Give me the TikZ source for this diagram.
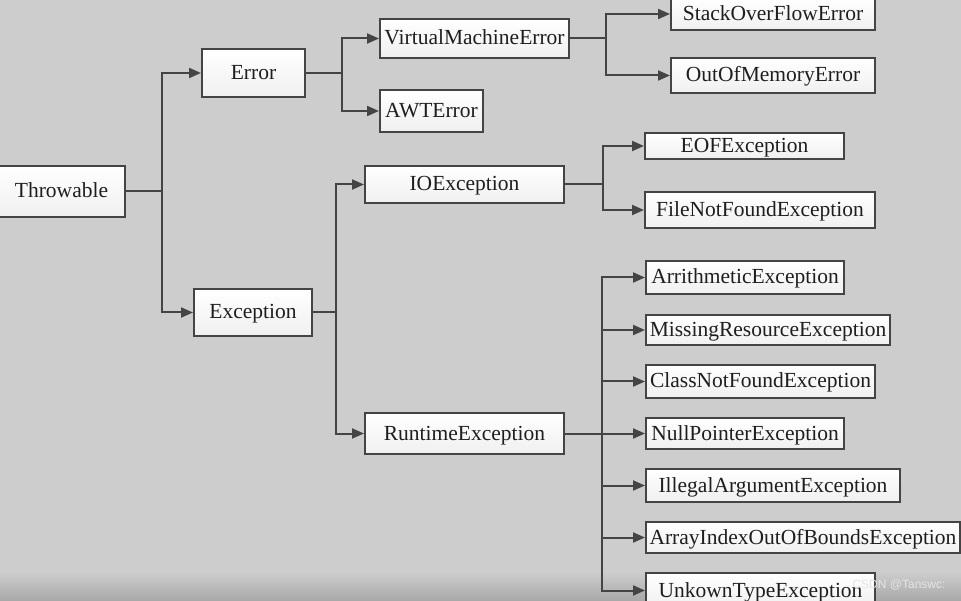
\documentclass[tikz,border=0pt]{standalone}
\usepackage{fontspec}
\setmainfont{Liberation Serif}
\newfontfamily\wmfont{Liberation Sans}
\usetikzlibrary{arrows.meta}
\definecolor{bgc}{HTML}{CDCDCD}
\definecolor{bgd}{HTML}{A8A8A8}
\definecolor{linec}{HTML}{444444}
\definecolor{txtc}{HTML}{1E1E1E}
\definecolor{wmc}{HTML}{E4E4E4}
\begin{document}
\begin{tikzpicture}[x=1pt,y=-1pt,
  cls/.style={draw=linec, line width=2pt, top color=white, bottom color=gray!12,
    inner sep=0pt, text=txtc, text height=13pt, text depth=0pt,
    font=\fontsize{21.5}{24}\selectfont},
  conn/.style={draw=linec, line width=2pt},
  arr/.style={conn, -{Triangle[length=12pt,width=10pt]}}]
\useasboundingbox (0,0) rectangle (961,601);
\fill[bgc] (0,0) rectangle (961,601);
\shade[top color=bgc, bottom color=bgd] (0,572) rectangle (961,601);

\node[cls, minimum width=127pt, minimum height=51pt] (thr) at (61.5,191.5) {Throwable};
\node[cls, minimum width=103pt, minimum height=48pt] (err) at (253.5,73) {Error};
\node[cls, minimum width=118pt, minimum height=47pt] (exc) at (253,312.5) {Exception};
\node[cls, minimum width=189pt, minimum height=39pt] (vme) at (474.5,38.5) {VirtualMachineError};
\node[cls, minimum width=103pt, minimum height=42pt] (awt) at (431.5,111) {AWTError};
\node[cls, minimum width=199pt, minimum height=37pt] (ioe) at (464.5,184.5) {IOException};
\node[cls, minimum width=199pt, minimum height=41pt] (rte) at (464.5,433.5) {RuntimeException};
\node[cls, minimum width=204pt, minimum height=32pt] (sof) at (773,14) {StackOverFlowError};
\node[cls, minimum width=204pt, minimum height=35pt] (oom) at (773,75.5) {OutOfMemoryError};
\node[cls, minimum width=199pt, minimum height=26pt] (eof) at (744.5,146) {EOFException};
\node[cls, minimum width=230pt, minimum height=36pt] (fnf) at (760,210) {FileNotFoundException};
\node[cls, minimum width=198pt, minimum height=33pt] (ari) at (745,277.5) {ArrithmeticException};
\node[cls, minimum width=244pt, minimum height=30pt] (mre) at (768,330) {MissingResourceException};
\node[cls, minimum width=229pt, minimum height=33pt] (cnf) at (760.5,381.5) {ClassNotFoundException};
\node[cls, minimum width=198pt, minimum height=31pt] (npe) at (745,433.5) {NullPointerException};
\node[cls, minimum width=254pt, minimum height=33pt] (iae) at (773,485.5) {IllegalArgumentException};
\node[cls, minimum width=314pt, minimum height=31pt] (aio) at (803,537.5) {ArrayIndexOutOfBoundsException};
\node[cls, minimum width=229pt, minimum height=35pt] (ute) at (760.5,590.5) {UnkownTypeException};

\coordinate (j1) at (162,191.5);
\coordinate (j2) at (342,73);
\coordinate (j3) at (336,312.5);
\coordinate (j4) at (606,38.5);
\coordinate (j5) at (603,184.5);
\coordinate (j6) at (602,433.5);

\draw[conn] (thr.east) -- (j1);
\draw[arr] (j1) |- (err.west);
\draw[arr] (j1) |- (exc.west);

\draw[conn] (err.east) -- (j2);
\draw[arr] (j2) |- (vme.west);
\draw[arr] (j2) |- (awt.west);

\draw[conn] (exc.east) -- (j3);
\draw[arr] (j3) |- (ioe.west);
\draw[arr] (j3) |- (rte.west);

\draw[conn] (vme.east) -- (j4);
\draw[arr] (j4) |- (sof.west);
\draw[arr] (j4) |- (oom.west);

\draw[conn] (ioe.east) -- (j5);
\draw[arr] (j5) |- (eof.west);
\draw[arr] (j5) |- (fnf.west);

\draw[conn] (rte.east) -- (j6);
\draw[arr] (j6) |- (ari.west);
\draw[arr] (j6) |- (mre.west);
\draw[arr] (j6) |- (cnf.west);
\draw[arr] (j6) -- (npe.west);
\draw[arr] (j6) |- (iae.west);
\draw[arr] (j6) |- (aio.west);
\draw[arr] (j6) |- (ute.west);

\node[text=wmc, font=\wmfont\fontsize{12}{14}\selectfont, inner sep=0pt] (wm) at (899,584.5) {CSDN @Tanswc:};
\end{tikzpicture}
\end{document}
